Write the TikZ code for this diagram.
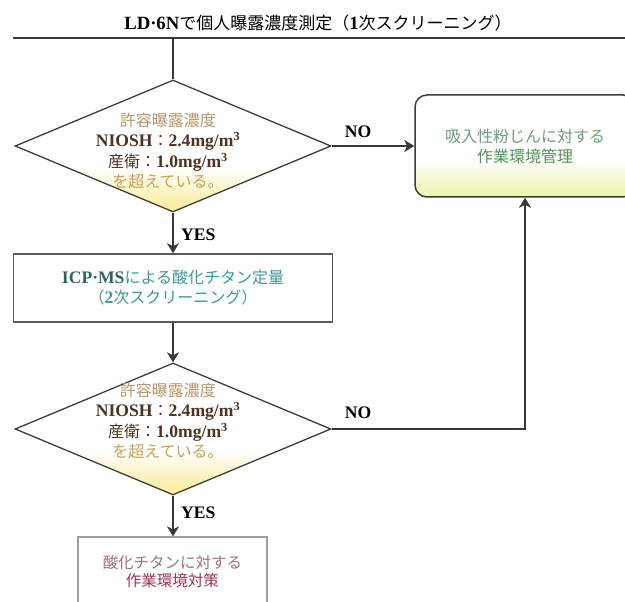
\documentclass[tikz,border=0pt]{standalone}
\usepackage{fontspec}
\setmainfont{Liberation Serif}[Scale=1.1]
\newfontfamily\jp{Noto Sans CJK JP}
\usetikzlibrary{shapes.geometric,arrows.meta}
\definecolor{lnc}{HTML}{3A3A32}
\definecolor{dgc}{HTML}{3C3C3C}
\definecolor{dylw}{HTML}{F9EB98}
\definecolor{gylw}{HTML}{EEF5B0}
\definecolor{tanc}{HTML}{B8976C}
\definecolor{brnc}{HTML}{4E3420}
\definecolor{orgc}{HTML}{C9A155}
\definecolor{tealc}{HTML}{3A9A9C}
\definecolor{dtealc}{HTML}{2E6466}
\definecolor{grnc}{HTML}{6E9E7A}
\definecolor{dgrnc}{HTML}{4F944F}
\definecolor{mauvc}{HTML}{A07080}
\definecolor{marc}{HTML}{A3344E}
\pgfdeclareverticalshading{dshade}{100bp}{color(0bp)=(dylw); color(25bp)=(dylw); color(30bp)=(dylw!75!white); color(42bp)=(white); color(100bp)=(white)}
\pgfdeclareverticalshading{rshade}{100bp}{color(0bp)=(gylw); color(25bp)=(gylw); color(31bp)=(gylw!80!white); color(43bp)=(white); color(100bp)=(white)}
\newcommand{\J}[1]{{\jp #1}}
\tikzset{
  conn/.style={draw=lnc, line width=2.4pt},
  arr/.style={conn, -{Stealth[length=10pt,width=12pt,inset=3pt]}},
  dia/.style={shape=diamond, draw=dgc, line width=1.3pt, minimum width=316pt,
    minimum height=132pt, inner sep=0pt, shading=dshade},
  diatext/.style={align=center, font=\fontsize{16}{20.5}\selectfont, inner sep=0pt},
  icpbox/.style={draw=dgc!85, line width=1.5pt, fill=white, minimum width=319pt,
    minimum height=68pt, align=center, font=\fontsize{16}{20}\selectfont, inner sep=0pt},
  rbox/.style={draw=dgc, line width=1.5pt, rounded corners=12pt, minimum width=220pt,
    minimum height=102pt, align=center, font=\fontsize{16}{20}\selectfont, inner sep=0pt,
    shading=rshade},
  bbox/.style={draw=gray!75, line width=1.2pt, fill=white, minimum width=189pt,
    minimum height=70pt, align=center, font=\fontsize{15.5}{18}\selectfont, inner sep=0pt},
  lbl/.style={font=\fontsize{16}{18}\selectfont\bfseries, text=black, inner sep=0pt},
}
\begin{document}
\begin{tikzpicture}[x=1pt, y=-1pt]
\useasboundingbox (0,0) rectangle (625,602);
\clip (0,0) rectangle (625,602);
\fill[white] (0,0) rectangle (625,602);

% title and top bar
\node[font=\fontsize{17}{20}\selectfont, inner sep=0pt] (title) at (318,23)
  {\textbf{LD·6N}\J{で個人曝露濃度測定（}\textbf{1}\J{次スクリーニング）}};
\coordinate (lineL) at (13,38);
\coordinate (lineR) at (640,38);
\coordinate (j) at (173,38);
\draw[conn] (lineL) -- (lineR);

% first decision
\node[dia] (d1) at (173,146) {};
\node[diatext] (d1t) at (168,151) {%
  \textcolor{tanc}{\J{許容曝露濃度}}\\
  \textcolor{brnc}{\textbf{NIOSH}\J{：}\textbf{2.4mg/m\textsuperscript{3}}}\\
  \textcolor{brnc}{\J{産衛：}\textbf{1.0mg/m\textsuperscript{3}}}\\
  \textcolor{orgc}{\J{を超えている。}}};

% ICP-MS box
\node[icpbox] (icp) at (173,288) {%
  \textcolor{dtealc}{\textbf{ICP·MS}}\textcolor{tealc}{\J{による酸化チタン定量}}\\
  \textcolor{tealc}{\J{（}\textbf{2}\J{次スクリーニング）}}};

% second decision
\node[dia] (d2) at (173,429) {};
\node[diatext] (d2t) at (168,421) {%
  \textcolor{tanc}{\J{許容曝露濃度}}\\
  \textcolor{brnc}{\textbf{NIOSH}\J{：}\textbf{2.4mg/m\textsuperscript{3}}}\\
  \textcolor{brnc}{\J{産衛：}\textbf{1.0mg/m\textsuperscript{3}}}\\
  \textcolor{orgc}{\J{を超えている。}}};

% right box
\node[rbox] (rb) at (525,146) {%
  \textcolor{grnc}{\J{吸入性粉じんに対する}}\\
  \textcolor{dgrnc}{\J{作業環境管理}}};

% bottom box
\node[bbox] (bb) at (172.5,572) {%
  \textcolor{mauvc}{\J{酸化チタンに対する}}\\
  \textcolor{marc}{\J{作業環境対策}}};

% connectors
\draw[conn] (j) -- (d1.north);
\draw[arr] (d1.south) -- (icp.north);
\draw[arr] (icp.south) -- (d2.north);
\draw[arr] (d2.south) -- (d2.south |- bb.north);
\draw[arr] (d1.east) -- (rb.west);
\draw[arr] (d2.east) -| (rb.south);

% labels
\node[lbl, anchor=west] (yes1) at (181,235) {YES};
\node[lbl, anchor=west] (yes2) at (181,513) {YES};
\node[lbl] (no1) at (358,132) {NO};
\node[lbl] (no2) at (358,413) {NO};
\end{tikzpicture}
\end{document}
